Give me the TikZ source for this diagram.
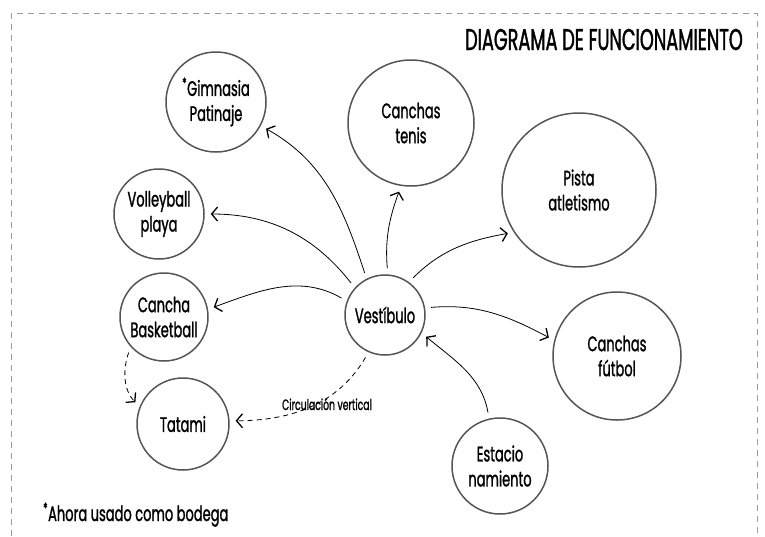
\documentclass[tikz,border=0pt]{standalone}
\usepackage{fontspec}
\setmainfont[FakeStretch=0.62, FakeBold=1.2]{Poppins}
\newfontfamily\headfont[FakeStretch=0.59, FakeBold=1.2]{Poppins}
\usetikzlibrary{arrows.meta}
\definecolor{ringgray}{HTML}{555555}
\definecolor{framegray}{HTML}{9A9A9A}
\tikzstyle{area} = [circle, draw=ringgray, line width=1.5pt, align=center, inner sep=0pt, font=\fontsize{21}{25}\selectfont]
\tikzstyle{line} = [draw, line width=0.8pt, -{Straight Barb[length=6pt,width=14pt,line width=1.3pt]}, shorten >=6pt, shorten <=6pt]
\tikzstyle{note} = [inner sep=0pt, font=\fontsize{21}{25}\selectfont]

\begin{document}
\begin{tikzpicture}[x=1pt, y=1pt]
    \useasboundingbox (0,0) rectangle (765,-536);
    \draw [framegray, line width=0.8pt, dash pattern=on 6pt off 5pt] (11,-13) rectangle (757,-560);
    \node [note, anchor=base east, font=\headfont\fontsize{30}{34}\selectfont] (heading) at (743,-50) {DIAGRAMA DE FUNCIONAMIENTO};
    \node [area, minimum size=80pt] (vest) at (385,-315) {Vestíbulo};
    \node [area, minimum size=100pt] (gimn) at (216,-102) {\textsuperscript{*}Gimnasia\\Patinaje};
    \node [area, minimum size=90pt] (volley) at (159,-214) {Volleyball\\playa};
    \node [area, minimum size=88pt] (basket) at (164,-317) {Cancha\\Basketball};
    \node [area, minimum size=92pt] (tatami) at (183,-424) {Tatami};
    \node [area, minimum size=126pt] (tenis) at (411,-123) {Canchas\\tenis};
    \node [area, minimum size=154pt] (pista) at (579,-190) {Pista\\atletismo};
    \node [area, minimum size=128pt] (futbol) at (617,-356) {Canchas\\fútbol};
    \node [area, minimum size=96pt] (estac) at (500,-466) {Estacio\\namiento};
    \node [note, anchor=base] (circ) at (327,-410) {\fontsize{15}{18}\selectfont Circulación vertical};
    \node [note, anchor=base west] (footnote) at (43,-521) {\textsuperscript{*}Ahora usado como bodega};
    \path [line] (vest.117) to[out=108,in=-29] (gimn.-28);
    \path [line] (vest.138) to[out=128,in=0] (volley.0);
    \path [line] (vest.160) to[out=150,in=20] (basket.10);
    \path [line] (vest.86) to[out=95,in=-110] (tenis.-99);
    \path [line] (vest.54) to[out=45,in=190] (pista.213);
    \path [line] (vest.10) to[out=5,in=152] (futbol.166);
    \path [line] (estac.103) to[out=100,in=-40] (vest.-26);
    \path [line,dash pattern=on 5pt off 4pt] (vest.-114) to[out=-120,in=0] (tatami.4);
    \path [line,dash pattern=on 5pt off 4pt] (basket.-138) to[out=-110,in=135] (tatami.158);
\end{tikzpicture}
\end{document}
